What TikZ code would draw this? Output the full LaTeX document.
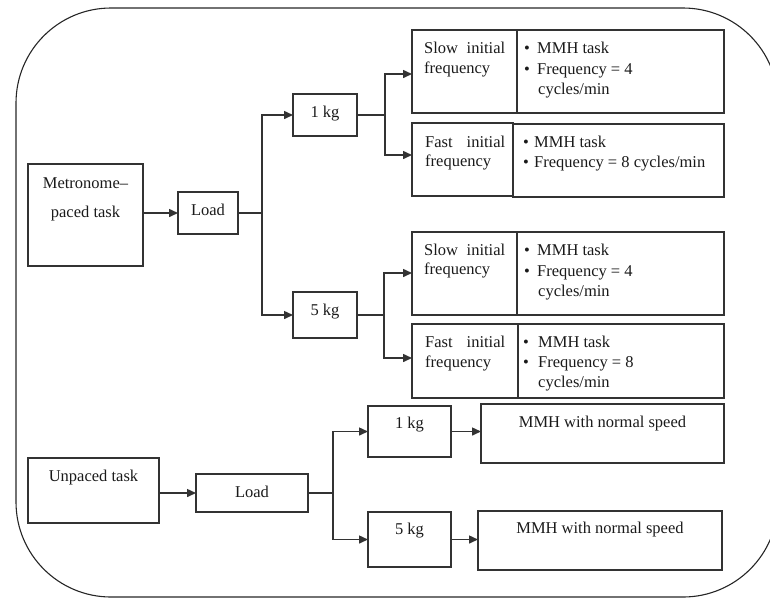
\documentclass[tikz,border=0pt]{standalone}
\usepackage{fontspec}
\setmainfont{Liberation Serif}
\usetikzlibrary{arrows.meta}
\definecolor{lc}{HTML}{333333}
\definecolor{tc}{HTML}{1A1A1A}
\newcommand\bul[1]{\makebox[#1][l]{\textbullet}}
\newcommand\tx[5]{\node[txt,anchor=#2] (#1) at (#3,#4) {#5};}
\newcommand\bx[5]{\node[box,minimum width=#4pt,minimum height=#5pt] (#1) at (#2,#3) {};}
\begin{document}
\begin{tikzpicture}[x=1pt,y=-1pt,
  box/.style={draw=lc, line width=1.3pt, inner sep=0pt, outer sep=0pt, anchor=north west},
  txt/.style={inner sep=0pt, font=\fontsize{16.5}{20}\selectfont, text=tc},
  arr/.style={draw=lc, line width=1.5pt, -{Triangle[length=9pt,width=8pt]}},
  ln/.style={draw=lc, line width=1.1pt},
  frame/.style={draw=black!85, line width=1.1pt, rounded corners=95pt}]
\useasboundingbox (0,0) rectangle (770,598);
\draw[frame] (16,8) rectangle (778,597);
% boxes
\bx{met}{28}{164}{115}{102}
\bx{loadA}{178}{192}{60}{42}
\bx{kgA}{293}{94}{64}{42}
\bx{kgB}{293}{292}{64}{46}
\bx{sAl}{412}{30}{105}{83}
\bx{sAr}{517}{30}{207}{83}
\bx{fAl}{412}{123}{101}{73}
\bx{fAr}{513}{124}{211}{73}
\bx{sBl}{412}{232}{105}{83}
\bx{sBr}{517}{232}{207}{83}
\bx{fBl}{412}{324}{106}{74}
\bx{fBr}{518}{324}{206}{74}
\bx{unp}{28}{458}{131}{65}
\bx{loadB}{196}{474}{112}{38}
\bx{kgC}{368}{406}{83}{51}
\bx{kgD}{368}{512}{83}{55}
\bx{mmhA}{481}{404}{243}{59}
\bx{mmhB}{478}{511}{244}{59}
% texts
\tx{t1}{base}{85.5}{188}{Metronome–}
\tx{t2}{base}{85.5}{217}{paced task}
\tx{t3}{base}{208}{215}{Load}
\tx{t4}{base}{325}{117}{1 kg}
\tx{t5}{base}{325}{315}{5 kg}
\tx{t6}{base}{93.5}{481}{Unpaced task}
\tx{t7}{base}{252}{497}{Load}
\tx{t8}{base}{409.5}{428}{1 kg}
\tx{t9}{base}{409.5}{534}{5 kg}
\tx{t10}{base}{602.5}{427}{MMH with normal speed}
\tx{t11}{base}{600}{533}{MMH with normal speed}
% left columns
\tx{l1}{base west}{424}{53}{\makebox[81pt][s]{Slow initial}}
\tx{l2}{base west}{424}{73}{frequency}
\tx{l3}{base west}{425}{147}{\makebox[80pt][s]{Fast initial}}
\tx{l4}{base west}{425}{166}{frequency}
\tx{l5}{base west}{424}{255}{\makebox[81pt][s]{Slow initial}}
\tx{l6}{base west}{424}{274}{frequency}
\tx{l7}{base west}{425}{347}{\makebox[80pt][s]{Fast initial}}
\tx{l8}{base west}{425}{367}{frequency}
% right columns
\tx{r1}{base west}{524}{53}{\bul{13pt}MMH task}
\tx{r2}{base west}{524}{74}{\bul{13pt}Frequency = 4}
\tx{r3}{base west}{538}{94}{cycles/min}
\tx{r4}{base west}{523}{147}{\bul{11pt}MMH task}
\tx{r5}{base west}{523}{167}{\bul{11pt}Frequency = 8 cycles/min}
\tx{r6}{base west}{524}{255}{\bul{13pt}MMH task}
\tx{r7}{base west}{524}{276}{\bul{13pt}Frequency = 4}
\tx{r8}{base west}{538}{296}{cycles/min}
\tx{r9}{base west}{523}{347}{\bul{15pt}MMH task}
\tx{r10}{base west}{523}{367}{\bul{15pt}Frequency = 8}
\tx{r11}{base west}{538}{387}{cycles/min}
% connectors
\coordinate (j1) at (262,213);
\coordinate (j2) at (385,115);
\coordinate (j3) at (384,315);
\coordinate (j4) at (333,493);
\draw[arr] (met.east |- loadA.west) -- (loadA.west);
\draw[ln] (loadA.east) -- (j1);
\draw[arr] (j1) |- (kgA.west);
\draw[arr] (j1) |- (kgB.west);
\draw[ln] (kgA.east) -- (j2);
\draw[arr] (j2) |- ([yshift=-44pt]sAl.north west);
\draw[arr] (j2) |- ([yshift=-32pt]fAl.north west);
\draw[ln] (kgB.east) -- (j3);
\draw[arr] (j3) |- ([yshift=-41pt]sBl.north west);
\draw[arr] (j3) |- ([yshift=-34pt]fBl.north west);
\draw[arr] (unp.east |- loadB.west) -- (loadB.west);
\draw[ln] (loadB.east) -- (j4);
\draw[arr] (j4) |- (kgC.west);
\draw[arr] (j4) |- (kgD.west);
\draw[arr] (kgC.east) -- (kgC.east -| mmhA.west);
\draw[arr] (kgD.east) -- (kgD.east -| mmhB.west);
\end{tikzpicture}
\end{document}
